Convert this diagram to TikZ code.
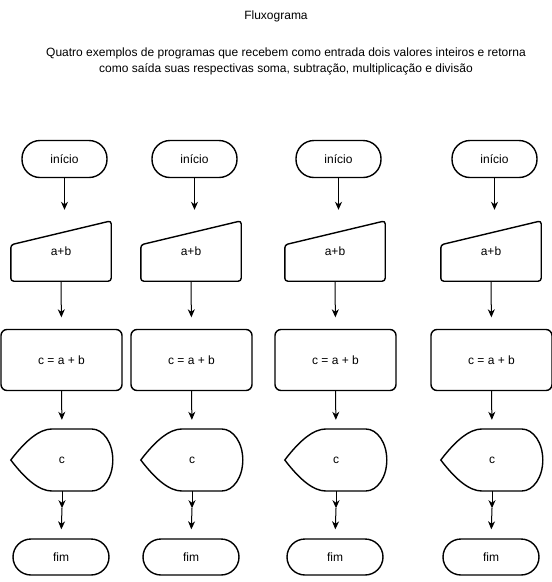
\documentclass[tikz,border=0pt]{standalone}
\usepackage{fontspec}
\setmainfont{Liberation Sans}
\usetikzlibrary{arrows.meta,calc}
\begin{document}
\begin{tikzpicture}[x=1pt,y=-1pt,
  every node/.style={font=\fontsize{12}{16}\selectfont, text=black},
  shp/.style={draw=black, line width=1.4pt},
  term/.style={shp, rounded corners=18pt, minimum height=37pt, inner sep=0pt},
  proc/.style={shp, rounded corners=6pt, minimum width=121pt, minimum height=61pt, inner sep=0pt},
  lbl/.style={inner sep=0pt, minimum width=100pt, minimum height=60pt},
  arr/.style={line width=1pt, -{Stealth[length=8pt,width=7pt,inset=2.5pt]}},
]
\useasboundingbox (0,0) rectangle (552,582);
\node (title) at (276,16) {Fluxograma};
\node[align=center] (sub) at (286,61) {Quatro exemplos de programas que recebem como entrada dois valores inteiros e retorna\\como saída suas respectivas soma, subtração, multiplicação e divisão};
\foreach \s/\i in {0/1,130/2,274/3,430/4}{
  \node[term, minimum width=85pt] (ini\i) at (\s+64.5,159) {início};
  \node[lbl] (man\i) at (\s+61,251) {a+b};
  \draw[shp, rounded corners=3pt] (man\i.south) -- (man\i.south west) -- ($(man\i.north west)+(0,24)$) -- (man\i.north east) -- (man\i.south east) -- cycle;
  \node[proc] (rec\i) at (\s+61.5,360) {c = a + b};
  \node[lbl, minimum width=102pt, minimum height=62pt] (dis\i) at (\s+62,460) {c};
  \draw[shp] (dis\i.west) .. controls ($(dis\i.west)+(15.67,-20.67)$) and ($(dis\i.west)+(29.33,-31)$) .. ($(dis\i.west)+(41,-31)$)
     -- ($(dis\i.west)+(81,-31)$) arc[start angle=90, end angle=-90, x radius=21pt, y radius=31pt]
     -- ($(dis\i.west)+(41,31)$) .. controls ($(dis\i.west)+(29.33,31)$) and ($(dis\i.west)+(15.67,20.67)$) .. (dis\i.west) -- cycle;
  \node[term, minimum width=96pt, minimum height=36pt] (fim\i) at (\s+61,557) {fim};
  \coordinate (mid\i) at ($(dis\i.south)+(0,17)$);
  \draw[arr, shorten >=11pt] (ini\i.south) -- (ini\i.south |- man\i.north);
  \draw[arr, shorten >=11.5pt] (man\i.south) -- (rec\i.north);
  \draw[arr, shorten >=9pt] (rec\i.south) -- (dis\i.north);
  \draw[arr] (dis\i.south) -- (mid\i);
  \draw[arr, shorten >=9pt] (mid\i) -- (fim\i.north);
}
\end{tikzpicture}
\end{document}
